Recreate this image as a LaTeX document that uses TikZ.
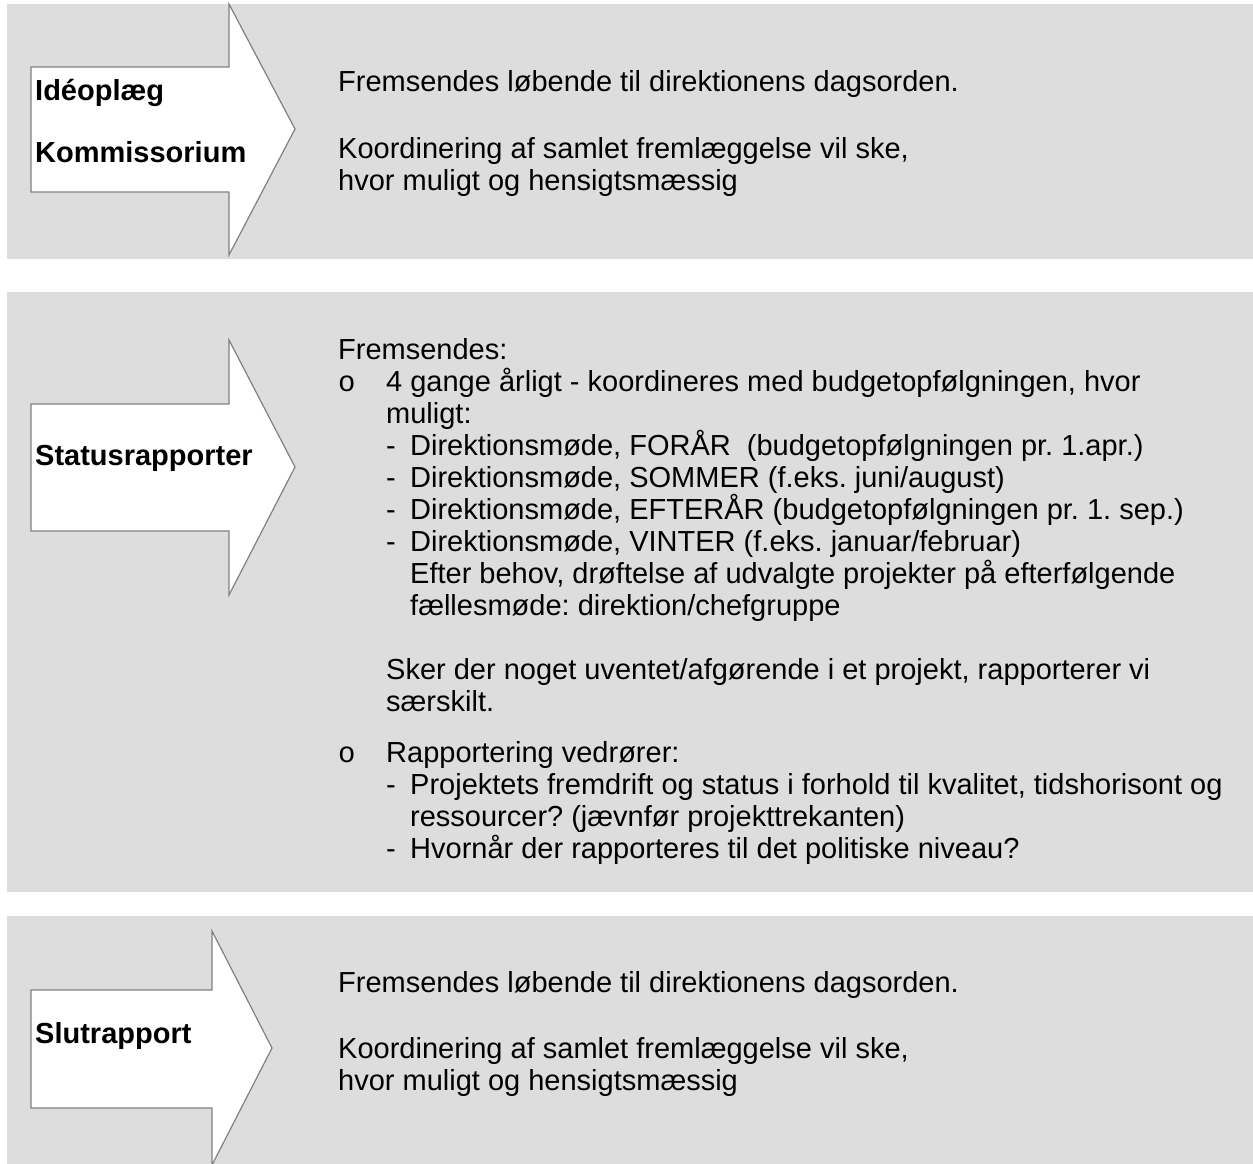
\documentclass[tikz,border=0pt]{standalone}
\usepackage{fontspec}
\setmainfont{Liberation Sans}
\newfontfamily\bulletfont{Liberation Mono}
\definecolor{panelfill}{RGB}{221,221,221}
\definecolor{arrowline}{RGB}{128,128,128}
\frenchspacing
\begin{document}
\begin{tikzpicture}[x=1pt,y=-1pt,
  panel/.style={fill=panelfill,draw=none},
  blockarrow/.style={fill=white,draw=arrowline,line width=1.2pt,line join=miter},
  stagelabel/.style={anchor=base west,inner sep=0pt,font=\fontsize{29}{32}\selectfont\bfseries},
  bodytext/.style={anchor=base west,inner sep=0pt,font=\fontsize{29}{32}\selectfont},
  bulletmark/.style={anchor=base west,inner sep=0pt,font=\fontsize{29}{32}\bulletfont}]

\useasboundingbox (0,0) rectangle (1253,1164);

% grey bands
\fill[panel] (7,4) rectangle (1253,259);
\fill[panel] (7,292) rectangle (1253,892);
\fill[panel] (7,916) rectangle (1253,1164);

% block arrows
\draw[blockarrow] (31,67) -- (229,67) -- (229,4) -- (295,129) -- (229,255) -- (229,192) -- (31,192) -- cycle;
\draw[blockarrow] (31,404) -- (229,404) -- (229,340) -- (295,467) -- (229,595) -- (229,531) -- (31,531) -- cycle;
\draw[blockarrow] (31,990) -- (212,990) -- (212,931) -- (272,1048) -- (212,1165) -- (212,1108) -- (31,1108) -- cycle;

% stage labels
\node[stagelabel] (idea) at (35,100) {Idéoplæg};
\node[stagelabel] (komm) at (35,162) {Kommissorium};
\node[stagelabel] (status) at (35,465) {Statusrapporter};
\node[stagelabel] (slut) at (35,1043) {Slutrapport};

% first band
\node[bodytext] (a1) at (338,92) {Fremsendes løbende til direktionens dagsorden.};
\node[bodytext] (a2) at (338,158) {Koordinering af samlet fremlæggelse vil ske,};
\node[bodytext] (a3) at (338,190) {hvor muligt og hensigtsmæssig};

% second band
\node[bodytext] (b1) at (338,359) {Fremsendes:};
\node[bulletmark] (b2o) at (338,391) {o};
\node[bodytext] (b2) at (386,391) {4 gange årligt - koordineres med budgetopfølgningen, hvor};
\node[bodytext] (b3) at (386,423) {muligt:};
\node[bodytext] (b4d) at (386,455) {-};
\node[bodytext] (b4) at (410,455) {Direktionsmøde, FORÅR\ \ (budgetopfølgningen pr. 1.apr.)};
\node[bodytext] (b5d) at (386,487) {-};
\node[bodytext] (b5) at (410,487) {Direktionsmøde, SOMMER (f.eks. juni/august)};
\node[bodytext] (b6d) at (386,519) {-};
\node[bodytext] (b6) at (410,519) {Direktionsmøde, EFTERÅR (budgetopfølgningen pr. 1. sep.)};
\node[bodytext] (b7d) at (386,551) {-};
\node[bodytext] (b7) at (410,551) {Direktionsmøde, VINTER (f.eks. januar/februar)};
\node[bodytext] (b8) at (410,583) {Efter behov, drøftelse af udvalgte projekter på efterfølgende};
\node[bodytext] (b9) at (410,615) {fællesmøde: direktion/chefgruppe};
\node[bodytext] (b10) at (386,679) {Sker der noget uventet/afgørende i et projekt, rapporterer vi};
\node[bodytext] (b11) at (386,711) {særskilt.};
\node[bulletmark] (b12o) at (338,762) {o};
\node[bodytext] (b12) at (386,762) {Rapportering vedrører:};
\node[bodytext] (b13d) at (386,794) {-};
\node[bodytext] (b13) at (410,794) {Projektets fremdrift og status i forhold til kvalitet, tidshorisont og};
\node[bodytext] (b14) at (410,826) {ressourcer? (jævnfør projekttrekanten)};
\node[bodytext] (b15d) at (386,858) {-};
\node[bodytext] (b15) at (410,858) {Hvornår der rapporteres til det politiske niveau?};

% third band
\node[bodytext] (c1) at (338,992) {Fremsendes løbende til direktionens dagsorden.};
\node[bodytext] (c2) at (338,1058) {Koordinering af samlet fremlæggelse vil ske,};
\node[bodytext] (c3) at (338,1090) {hvor muligt og hensigtsmæssig};
\end{tikzpicture}
\end{document}
